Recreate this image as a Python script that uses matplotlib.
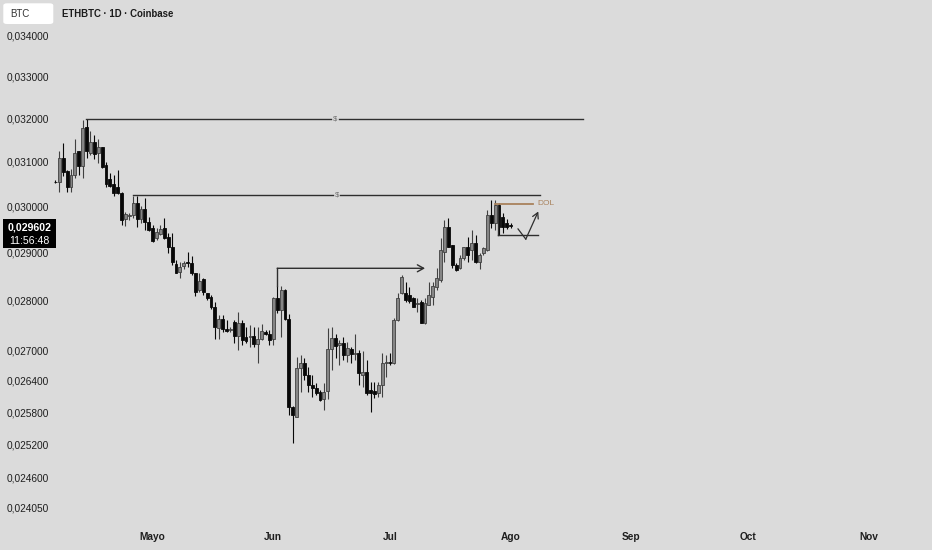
import matplotlib
matplotlib.use('Agg')
import matplotlib.pyplot as plt
import matplotlib.dates as mdates
import pandas as pd
from matplotlib.transforms import blended_transform_factory
from matplotlib.patches import FancyBboxPatch

plt.rcParams['font.family'] = ['Liberation Sans', 'DejaVu Sans']

# DATOS (velas diarias ETHBTC)
fecha_inicio = '2024-04-06'

aperturas = [
    0.030570, 0.030571, 0.031100, 0.030820, 0.030460, 0.030720, 0.031260, 0.030925, 0.031820, 0.031215,
    0.031480, 0.031215, 0.031350, 0.030950, 0.030620, 0.030520, 0.030460, 0.030310, 0.029740, 0.029810,
    0.029834, 0.030090, 0.029740, 0.029960, 0.029690, 0.029540, 0.029330, 0.029420, 0.029540, 0.029363,
    0.029136, 0.028780, 0.028620, 0.028740, 0.028830, 0.028810, 0.028590, 0.028240, 0.028460, 0.028170,
    0.028100, 0.027880, 0.027460, 0.027640, 0.027450, 0.027420, 0.027590, 0.027300, 0.027570, 0.027290,
    0.027280, 0.027300, 0.027150, 0.027250, 0.027390, 0.027350, 0.027250, 0.028070, 0.027830, 0.028240,
    0.027640, 0.025920, 0.025730, 0.026670, 0.026770, 0.026530, 0.026340, 0.026280, 0.026200, 0.026070,
    0.026220, 0.027040, 0.027260, 0.027120, 0.027160, 0.026920, 0.027040, 0.026940, 0.026970, 0.026530,
    0.026590, 0.026240, 0.026220, 0.026180, 0.026340, 0.026760, 0.026790, 0.026770, 0.027620, 0.028180,
    0.028170, 0.028140, 0.028070, 0.027950, 0.027990, 0.027560, 0.027930, 0.028100, 0.028290, 0.028450,
    0.029030, 0.029570, 0.029180, 0.028760, 0.028700, 0.028910, 0.029140, 0.029080, 0.029230, 0.028820,
    0.029010, 0.029080, 0.029830, 0.029660, 0.030050, 0.029790, 0.029650, 0.029610,
]
maximos = [
    0.030600, 0.031274, 0.031444, 0.030835, 0.030850, 0.031536, 0.031274, 0.031986, 0.032000, 0.031736,
    0.031636, 0.031536, 0.031366, 0.031020, 0.030760, 0.030720, 0.030835, 0.030330, 0.029906, 0.029880,
    0.030260, 0.030250, 0.030020, 0.030200, 0.029780, 0.029616, 0.029540, 0.029616, 0.029760, 0.029435,
    0.029435, 0.028865, 0.028830, 0.028850, 0.029040, 0.028940, 0.028600, 0.028590, 0.028480, 0.028180,
    0.028130, 0.027980, 0.027720, 0.027720, 0.027620, 0.027490, 0.027620, 0.027790, 0.027620, 0.027490,
    0.027520, 0.027490, 0.027490, 0.027550, 0.027420, 0.027420, 0.028100, 0.028310, 0.028310, 0.028250,
    0.027750, 0.025940, 0.026880, 0.026920, 0.026860, 0.026690, 0.026530, 0.026370, 0.026240, 0.026370,
    0.027460, 0.027480, 0.027340, 0.027220, 0.027280, 0.027180, 0.027080, 0.027340, 0.027020, 0.027000,
    0.026820, 0.026400, 0.026400, 0.026400, 0.026970, 0.026920, 0.026970, 0.027660, 0.028180, 0.028550,
    0.028400, 0.028300, 0.028090, 0.028070, 0.028030, 0.028070, 0.028400, 0.028400, 0.028700, 0.029340,
    0.029720, 0.029770, 0.029180, 0.028800, 0.028970, 0.029140, 0.029360, 0.029510, 0.029400, 0.029010,
    0.029140, 0.029940, 0.030160, 0.030160, 0.030100, 0.029880, 0.029740, 0.029660,
]
minimos = [
    0.030540, 0.030348, 0.030700, 0.030350, 0.030350, 0.030647, 0.030722, 0.030647, 0.031100, 0.031176,
    0.031077, 0.031000, 0.030873, 0.030445, 0.030450, 0.030250, 0.030300, 0.029616, 0.029594, 0.029724,
    0.029760, 0.029566, 0.029650, 0.029507, 0.029490, 0.029256, 0.029290, 0.029400, 0.029310, 0.029020,
    0.028760, 0.028585, 0.028480, 0.028670, 0.028720, 0.028550, 0.028110, 0.028200, 0.028130, 0.028030,
    0.027840, 0.027240, 0.027250, 0.027390, 0.027390, 0.027390, 0.027170, 0.027020, 0.027120, 0.027160,
    0.027090, 0.027080, 0.026760, 0.027220, 0.027320, 0.027120, 0.027120, 0.027760, 0.027290, 0.027620,
    0.025760, 0.025240, 0.025720, 0.026200, 0.026430, 0.026200, 0.026110, 0.026140, 0.026030, 0.025860,
    0.026070, 0.026630, 0.026860, 0.026730, 0.026820, 0.026780, 0.026760, 0.026820, 0.026340, 0.026300,
    0.026140, 0.025820, 0.026090, 0.026100, 0.026100, 0.026490, 0.026730, 0.026750, 0.027600, 0.028160,
    0.027990, 0.027970, 0.027890, 0.027790, 0.027560, 0.027540, 0.027930, 0.027930, 0.028240, 0.028400,
    0.028820, 0.029140, 0.028700, 0.028630, 0.028670, 0.028870, 0.028820, 0.028870, 0.028800, 0.028670,
    0.028970, 0.029060, 0.029550, 0.029510, 0.029400, 0.029450, 0.029530, 0.029550,
]
cierres = [
    0.030560, 0.031100, 0.030797, 0.030460, 0.030720, 0.031215, 0.030925, 0.031792, 0.031274, 0.031480,
    0.031199, 0.031352, 0.030895, 0.030520, 0.030480, 0.030310, 0.030310, 0.029724, 0.029855, 0.029834,
    0.030090, 0.029740, 0.029958, 0.029687, 0.029507, 0.029277, 0.029470, 0.029520, 0.029330, 0.029136,
    0.028830, 0.028600, 0.028720, 0.028810, 0.028800, 0.028590, 0.028200, 0.028430, 0.028200, 0.028070,
    0.027880, 0.027490, 0.027640, 0.027440, 0.027410, 0.027450, 0.027300, 0.027570, 0.027220, 0.027210,
    0.027300, 0.027150, 0.027250, 0.027400, 0.027350, 0.027220, 0.028070, 0.027830, 0.028240, 0.027640,
    0.025920, 0.025760, 0.026670, 0.026770, 0.026530, 0.026340, 0.026280, 0.026180, 0.026050, 0.026200,
    0.027040, 0.027260, 0.027100, 0.027160, 0.026920, 0.027060, 0.026940, 0.026970, 0.026570, 0.026590,
    0.026180, 0.026180, 0.026160, 0.026340, 0.026770, 0.026790, 0.026770, 0.027620, 0.028070, 0.028510,
    0.028030, 0.028000, 0.027890, 0.027970, 0.027560, 0.027970, 0.028130, 0.028310, 0.028490, 0.029080,
    0.029570, 0.029140, 0.028760, 0.028650, 0.028910, 0.029140, 0.028970, 0.029230, 0.028820, 0.028970,
    0.029120, 0.029830, 0.029660, 0.030050, 0.029570, 0.029570, 0.029570, 0.029602,
]

# Escala de precios (eje izquierdo) y meses
precios_eje = [0.034, 0.033, 0.032, 0.031, 0.030, 0.029, 0.028, 0.027,
               0.0264, 0.0258, 0.0252, 0.0246, 0.02405]
meses = ['2024-05-01', '2024-06-01', '2024-07-01', '2024-08-01',
         '2024-09-01', '2024-10-01', '2024-11-01']
nombres_meses = ['Mayo', 'Jun', 'Jul', 'Ago', 'Sep', 'Oct', 'Nov']

# Dibujos: niveles de liquidez ($), flecha, caja y DOL (dias desde el inicio)
niveles_liq = [0.03200, 0.03027]
liq_desde = [7.95, 20.0]
liq_hasta = [135.6, 124.5]
flecha_precio = [0.02831, 0.02869]
flecha_dias = [57.0, 95.0]
caja_precio = [0.03005, 0.02940]
caja_dias = [113.7, 124.0]
dol_precio = 0.03008
dol_dias = [113.0, 122.8]
zigzag_dias = [118.9, 120.9, 124.1]
zigzag_precio = [0.02953, 0.02931, 0.02991]
precio_actual = '0,029602'
cuenta_atras = '11:56:48'

W, H = 932, 550
fondo = '#dbdbdb'

fig = plt.figure(figsize=(W / 100, H / 100), dpi=100, facecolor=fondo)
ax = fig.add_axes([0, 0, 1, 1])
ax.set_facecolor(fondo)
ax.set_yscale('log')
ax.axis('off')

fechas = mdates.date2num(pd.date_range(fecha_inicio, periods=len(cierres), freq='D'))
t0 = fechas[0]
ax.set_xlim(t0 - 14.24, t0 + 225.3)
ax.set_ylim(0.023336, 0.034927)

# Velas
for x, o, h, l, c in zip(fechas, aperturas, maximos, minimos, cierres):
    sube = c >= o
    color_cuerpo = '#858585' if sube else '#080808'
    color_borde = '#404040' if sube else '#080808'
    ax.vlines(x, l, h, color=color_borde, lw=0.8, zorder=2)
    ax.bar(x, abs(c - o), bottom=min(o, c), width=0.74, color=color_cuerpo,
           edgecolor=color_borde, linewidth=0.6, zorder=3)

linea = '#2e2e2e'

# Niveles con $
for nivel, d0, d1 in zip(niveles_liq, liq_desde, liq_hasta):
    medio = (d0 + d1) / 2
    ax.plot([t0 + d0, t0 + medio - 1.0], [nivel, nivel], color=linea, lw=1.0, zorder=4)
    ax.plot([t0 + medio + 1.0, t0 + d1], [nivel, nivel], color=linea, lw=1.0, zorder=4)
    ax.text(t0 + medio, nivel, '$', ha='center', va='center', fontsize=5.5, color='#6e6e6e')

# Flecha desde el maximo de junio
ax.plot([t0 + flecha_dias[0]] * 2, flecha_precio, color=linea, lw=1.0, zorder=4)
ax.annotate('', xy=(t0 + flecha_dias[1], flecha_precio[1]),
            xytext=(t0 + flecha_dias[0], flecha_precio[1]),
            arrowprops=dict(arrowstyle='->,head_length=0.45,head_width=0.25',
                            color=linea, lw=1.0, shrinkA=0, shrinkB=0))

# Caja del rango y DOL
ax.plot([t0 + caja_dias[0]] * 2, caja_precio, color=linea, lw=1.0, zorder=4)
ax.plot([t0 + caja_dias[0], t0 + caja_dias[1]], [caja_precio[1]] * 2, color=linea, lw=1.0, zorder=4)
ax.plot([t0 + dol_dias[0], t0 + dol_dias[1]], [dol_precio] * 2, color='#a9825c', lw=1.3, zorder=4)
ax.text(t0 + dol_dias[1] + 1.2, dol_precio, 'DOL', ha='left', va='center',
        fontsize=6, color='#a9825c')

# Zigzag proyectado
ax.plot([t0 + d for d in zigzag_dias[:2]], zigzag_precio[:2], color=linea, lw=0.9, zorder=4)
ax.annotate('', xy=(t0 + zigzag_dias[2], zigzag_precio[2]),
            xytext=(t0 + zigzag_dias[1], zigzag_precio[1]),
            arrowprops=dict(arrowstyle='->,head_length=0.4,head_width=0.22',
                            color=linea, lw=0.9, shrinkA=0, shrinkB=0))

# Escala de precios
trans_y = blended_transform_factory(ax.transAxes, ax.transData)
for p in precios_eje:
    ax.text(7 / W, p, f'{p:.6f}'.replace('.', ','), transform=trans_y,
            ha='left', va='center', fontsize=7.3, color='#1e1e1e')

# Meses
trans_x = blended_transform_factory(ax.transData, ax.transAxes)
for m, nombre in zip(meses, nombres_meses):
    ax.text(mdates.datestr2num(m), 1 - 536.5 / H, nombre, transform=trans_x,
            ha='center', va='center', fontsize=7.3, fontweight='bold', color='#1e1e1e')

# Etiqueta del precio actual
caja = FancyBboxPatch((2.7 / W, 1 - 248 / H), 53.3 / W, 29 / H, boxstyle='square,pad=0',
                      transform=fig.transFigure, facecolor='black', edgecolor='none')
fig.add_artist(caja)
fig.text(29.3 / W, 1 - 227.7 / H, precio_actual, ha='center', va='center',
         fontsize=7.6, fontweight='bold', color='white')
fig.text(29.3 / W, 1 - 240.7 / H, cuenta_atras, ha='center', va='center',
         fontsize=7.6, color='white')

# Cabecera
simbolo = FancyBboxPatch((3.3 / W, 1 - 24 / H), 50 / W, 20.7 / H,
                         boxstyle='round,pad=0,rounding_size=0.004',
                         transform=fig.transFigure, facecolor='white', edgecolor='none')
fig.add_artist(simbolo)
fig.text(10 / W, 1 - 14 / H, 'BTC', ha='left', va='center', fontsize=7, color='#333333')
fig.text(62.5 / W, 1 - 14 / H, 'ETHBTC · 1D · Coinbase', ha='left', va='center',
         fontsize=6.9, fontweight='bold', color='#1a1a1a')

fig.savefig('out.png', dpi=100, facecolor=fondo)
